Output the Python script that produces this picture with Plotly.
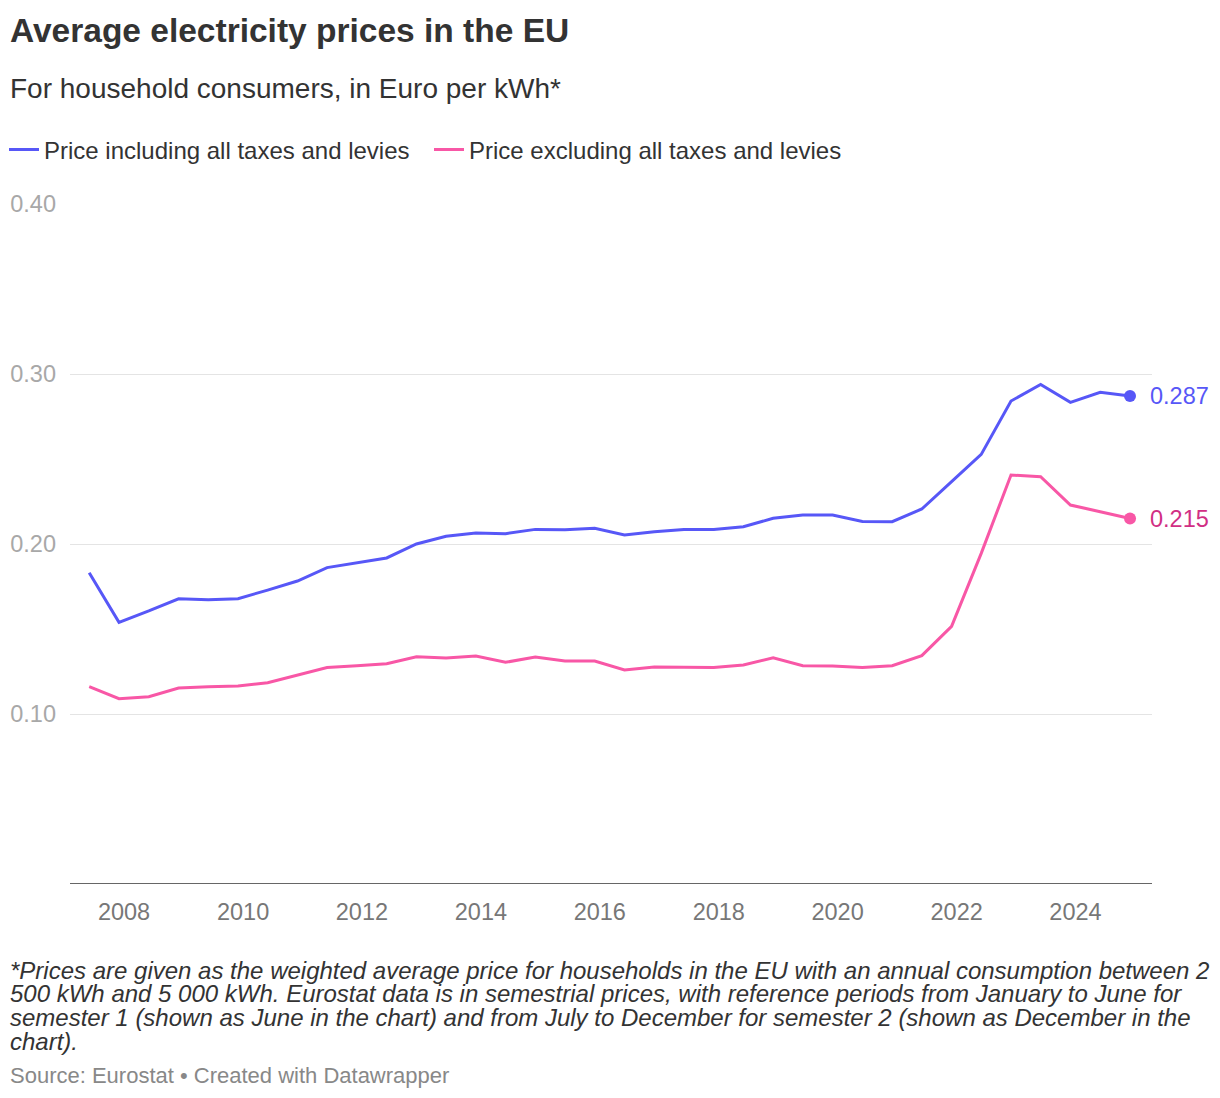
import plotly.graph_objects as go

# ---- data ----
dates = [f"{y}-{m:02d}-01" for y in range(2007, 2025) for m in (6, 12)]
price_incl = [0.1831, 0.1539, 0.1606, 0.1678, 0.1672, 0.1678, 0.1729, 0.1782, 0.1861, 0.1888,
              0.1918, 0.2000, 0.2045, 0.2065, 0.2061, 0.2086, 0.2084, 0.2092, 0.2053, 0.2072,
              0.2086, 0.2086, 0.2102, 0.2151, 0.2171, 0.2171, 0.2132, 0.2131, 0.2206, 0.2367,
              0.2527, 0.2841, 0.2939, 0.2833, 0.2892, 0.2870]
price_excl = [0.1161, 0.1090, 0.1102, 0.1153, 0.1161, 0.1165, 0.1184, 0.1229, 0.1273, 0.1284,
              0.1296, 0.1337, 0.1329, 0.1341, 0.1304, 0.1335, 0.1312, 0.1312, 0.1259, 0.1276,
              0.1273, 0.1273, 0.1288, 0.1331, 0.1284, 0.1282, 0.1273, 0.1284, 0.1343, 0.1516,
              0.1945, 0.2406, 0.2396, 0.2229, 0.2190, 0.2150]
series_names = ["Price including all taxes and levies", "Price excluding all taxes and levies"]
y_ticks = [0.10, 0.20, 0.30, 0.40]
x_ticks = [f"{y}-01-01" for y in range(2008, 2025, 2)]
x_ticklabels = [str(y) for y in range(2008, 2025, 2)]

title = "Average electricity prices in the EU"
subtitle = "For household consumers, in Euro per kWh*"
note_lines = [
    "*Prices are given as the weighted average price for households in the EU with an annual consumption between 2",
    "500 kWh and 5 000 kWh. Eurostat data is in semestrial prices, with reference periods from January to June for",
    "semester 1 (shown as June in the chart) and from July to December for semester 2 (shown as December in the",
    "chart).",
]
source = "Source: Eurostat • Created with Datawrapper"

BLUE = "#5757f7"
PINK = "#f857a6"
PINK_TXT = "#d12f84"
FONT = "Liberation Sans, Arial, sans-serif"

W, H = 1212, 1090
L, R, T, B = 62, 68, 196, 214
PW, PH = W - L - R, H - T - B


def py(page_y):
    # page y (px) -> paper y
    return (H - B - (page_y - 8)) / PH


def px(page_x):
    return (page_x - 8 - L) / PW


fig = go.Figure()
for vals, name, col in [(price_incl, series_names[0], BLUE), (price_excl, series_names[1], PINK)]:
    fig.add_trace(go.Scatter(x=dates, y=vals, mode="lines", name=name,
                             line=dict(color=col, width=3), hoverinfo="x+y"))
for vals, col, tcol in [(price_incl, BLUE, BLUE), (price_excl, PINK, PINK_TXT)]:
    fig.add_trace(go.Scatter(x=[dates[-1]], y=[vals[-1]], mode="markers",
                             marker=dict(color=col, size=12), showlegend=False, hoverinfo="skip"))
    fig.add_annotation(x=dates[-1], y=vals[-1], xref="x", yref="y", text=f"{vals[-1]:.3f}",
                       showarrow=False, xanchor="left", xshift=18, yanchor="middle",
                       font=dict(family=FONT, size=23.5, color=tcol))

fig.update_layout(
    width=W, height=H,
    margin=dict(l=L, r=R, t=T, b=B, autoexpand=False),
    paper_bgcolor="white", plot_bgcolor="white",
    font=dict(family=FONT, color="#333333"),
    showlegend=True,
    legend=dict(orientation="h", x=px(4), xanchor="left", y=py(150), yanchor="middle",
                font=dict(family=FONT, size=24, color="#333333"), itemwidth=30,
                entrywidth=380, tracegroupgap=0, bgcolor="rgba(0,0,0,0)"),
    xaxis=dict(type="date", range=["2007-02-03", "2025-04-15"], tickvals=x_ticks,
               ticktext=x_ticklabels, showgrid=False, zeroline=False, showline=False,
               ticks="", tickfont=dict(family=FONT, size=23.5, color="#777777"),
               ticklabelstandoff=11, automargin=False, fixedrange=True),
    yaxis=dict(range=[0, 0.40], tickvals=y_ticks, tickformat=".2f", showgrid=True,
               gridcolor="#e4e4e4", gridwidth=1, zeroline=False, showline=False, ticks="",
               tickfont=dict(family=FONT, size=23.5, color="#a8a8a8"), ticklabelstandoff=13,
               automargin=False, fixedrange=True),
)
fig.add_shape(type="line", xref="paper", yref="y", x0=0, x1=1, y0=0, y1=0,
              line=dict(color="#333333", width=1.5))

fig.add_annotation(xref="paper", yref="paper", x=px(8), y=py(30), xanchor="left",
                   yanchor="middle", showarrow=False, text=f"<b>{title}</b>",
                   font=dict(family=FONT, size=33.5, color="#333333"))
fig.add_annotation(xref="paper", yref="paper", x=px(8), y=py(89), xanchor="left",
                   yanchor="middle", showarrow=False, text=subtitle,
                   font=dict(family=FONT, size=28, color="#333333"))
for i, line in enumerate(note_lines):
    fig.add_annotation(xref="paper", yref="paper", x=px(8), y=py(970 + 23.7 * i), xanchor="left",
                       yanchor="middle", showarrow=False, align="left", text=f"<i>{line}</i>",
                       font=dict(family=FONT, size=24, color="#333333"))
fig.add_annotation(xref="paper", yref="paper", x=px(8), y=py(1075), xanchor="left",
                   yanchor="middle", showarrow=False, text=source,
                   font=dict(family=FONT, size=22, color="#888888"))

fig.write_html("out.html")
